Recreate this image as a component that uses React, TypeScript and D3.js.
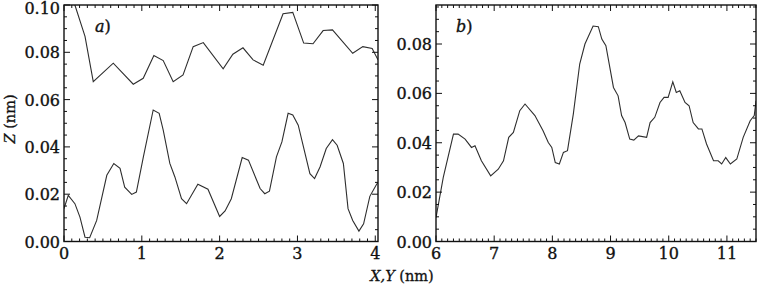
import React from "react";
import * as d3 from "d3";

// Panel a) — two height profiles along the scan (nm)
const profileTopX = [0.0, 0.14, 0.27, 0.376, 0.633, 0.89, 1.018, 1.155, 1.275, 1.403, 1.53, 1.66, 1.79, 2.045, 2.17, 2.3, 2.43, 2.56, 2.815, 2.94, 3.08, 3.2, 3.33, 3.45, 3.71, 3.84, 3.96, 4.035];
const profileTopZ = [0.113, 0.1, 0.0867, 0.0676, 0.0754, 0.0665, 0.069, 0.0786, 0.0765, 0.0676, 0.0704, 0.0824, 0.0841, 0.073, 0.0792, 0.0819, 0.0768, 0.0745, 0.0963, 0.0969, 0.0839, 0.0836, 0.0892, 0.0895, 0.0796, 0.0824, 0.0816, 0.0768];

const profileBottomX = [0, 0.055, 0.14, 0.205, 0.27, 0.33, 0.42, 0.55, 0.64, 0.72, 0.78, 0.87, 0.93, 1.02, 1.146, 1.223, 1.275, 1.36, 1.425, 1.51, 1.575, 1.72, 1.85, 2.0, 2.07, 2.15, 2.29, 2.37, 2.52, 2.58, 2.64, 2.73, 2.8, 2.88, 2.94, 3.01, 3.16, 3.22, 3.29, 3.37, 3.45, 3.51, 3.59, 3.65, 3.71, 3.79, 3.85, 3.93, 4.01, 4.035];
const profileBottomZ = [0.0139, 0.0195, 0.016, 0.0103, 0.0018, 0.0016, 0.0089, 0.028, 0.033, 0.0309, 0.023, 0.0199, 0.0209, 0.0358, 0.0556, 0.0542, 0.0471, 0.033, 0.0273, 0.0181, 0.016, 0.0242, 0.0221, 0.0106, 0.0129, 0.0181, 0.0355, 0.0344, 0.0224, 0.0202, 0.0213, 0.0358, 0.0421, 0.0542, 0.0535, 0.0492, 0.0287, 0.0266, 0.0315, 0.0393, 0.0431, 0.0407, 0.033, 0.0139, 0.0089, 0.0044, 0.0075, 0.0191, 0.0238, 0.025];

// Panel b) — single profile
const profileBX = [6.0, 6.125, 6.3, 6.38, 6.5, 6.61, 6.67, 6.78, 6.94, 7.07, 7.16, 7.25, 7.33, 7.44, 7.53, 7.7, 7.84, 7.93, 7.99, 8.05, 8.12, 8.19, 8.26, 8.36, 8.47, 8.56, 8.7, 8.79, 8.85, 8.92, 9.05, 9.13, 9.19, 9.25, 9.33, 9.4, 9.48, 9.62, 9.68, 9.76, 9.85, 9.92, 9.99, 10.07, 10.13, 10.19, 10.28, 10.35, 10.42, 10.51, 10.57, 10.65, 10.77, 10.85, 10.91, 10.98, 11.06, 11.17, 11.28, 11.4, 11.47, 11.5];
const profileBZ = [0.0097, 0.026, 0.0435, 0.0435, 0.0415, 0.0381, 0.0388, 0.0327, 0.0266, 0.0293, 0.0327, 0.0422, 0.0442, 0.053, 0.0557, 0.051, 0.0449, 0.0401, 0.0381, 0.032, 0.0314, 0.0361, 0.0368, 0.0516, 0.0719, 0.08, 0.0873, 0.087, 0.082, 0.0793, 0.0624, 0.059, 0.051, 0.0482, 0.0415, 0.0411, 0.0428, 0.0422, 0.0482, 0.0503, 0.0563, 0.0584, 0.0584, 0.0647, 0.0604, 0.0611, 0.0563, 0.055, 0.0482, 0.0456, 0.0456, 0.0395, 0.0327, 0.0327, 0.0314, 0.034, 0.0314, 0.0334, 0.0422, 0.0489, 0.051, 0.057];

// Tick labels
const aXTicks = [0, 1, 2, 3, 4];
const aYTicks = [0, 0.02, 0.04, 0.06, 0.08, 0.1];
const bXTicks = [6, 7, 8, 9, 10, 11];
const bYTicks = [0, 0.02, 0.04, 0.06, 0.08];

const FONT = "'DejaVu Serif', 'Liberation Serif', serif";
const TOP = 5;
const BOTTOM = 241.5;

type PanelProps = {
  id: string;
  x0: number;
  x1: number;
  xDomain: [number, number];
  yDomain: [number, number];
  xTicks: number[];
  yTicks: number[];
  series: { x: number[]; z: number[] }[];
  tag: string;
  tagX: number;
};

function range(a: number, b: number, step: number) {
  const out: number[] = [];
  const n = Math.round((b - a) / step);
  for (let i = 0; i <= n; i++) out.push(+(a + i * step).toFixed(6));
  return out;
}

function Panel({ id, x0, x1, xDomain, yDomain, xTicks, yTicks, series, tag, tagX }: PanelProps) {
  const x = d3.scaleLinear().domain(xDomain).range([x0, x1]);
  const y = d3.scaleLinear().domain(yDomain).range([BOTTOM, TOP]);
  const line = d3
    .line<[number, number]>()
    .x((d) => x(d[0]))
    .y((d) => y(d[1]));

  const xMinor = range(Math.ceil(xDomain[0] * 10) / 10, Math.floor(xDomain[1] * 10) / 10, 0.1);
  const yMinor = range(0, Math.floor(yDomain[1] / 0.005) * 0.005, 0.005);
  const isMajor = (v: number, list: number[]) => list.some((t) => Math.abs(t - v) < 1e-6);

  const tickLines: JSX.Element[] = [];
  xMinor.forEach((v, i) => {
    const len = isMajor(v, xTicks) ? 6 : 3;
    const px = x(v);
    tickLines.push(<line key={`xb${i}`} x1={px} x2={px} y1={BOTTOM} y2={BOTTOM - len} />);
    tickLines.push(<line key={`xt${i}`} x1={px} x2={px} y1={TOP} y2={TOP + len} />);
  });
  yMinor.forEach((v, i) => {
    const len = isMajor(v, yTicks) ? 6 : 3;
    const py = y(v);
    tickLines.push(<line key={`yl${i}`} x1={x0} x2={x0 + len} y1={py} y2={py} />);
    tickLines.push(<line key={`yr${i}`} x1={x1} x2={x1 - len} y1={py} y2={py} />);
  });

  return (
    <g>
      <defs>
        <clipPath id={id}>
          <rect x={x0} y={TOP} width={x1 - x0} height={BOTTOM - TOP} />
        </clipPath>
      </defs>
      <g clipPath={`url(#${id})`}>
        {series.map((s, i) => (
          <path
            key={i}
            d={line(s.x.map((v, j) => [v, s.z[j]] as [number, number])) || ""}
            fill="none"
            stroke="#2e2e2e"
            strokeWidth={1.1}
          />
        ))}
      </g>
      <g stroke="#111" strokeWidth={1}>
        {tickLines}
      </g>
      <rect x={x0} y={TOP} width={x1 - x0} height={BOTTOM - TOP} fill="none" stroke="#111" strokeWidth={1.4} />
      <g fontFamily={FONT} fontSize={16} fill="#111" stroke="#111" strokeWidth={0.35}>
        {xTicks.map((t) => (
          <text key={`xl${t}`} x={x(t)} y={259} textAnchor="middle">
            {t}
          </text>
        ))}
        {yTicks.map((t) => (
          <text key={`yl${t}`} x={x0 - 4} y={Math.max(y(t) + 6, 13.5)} textAnchor="end">
            {t.toFixed(2)}
          </text>
        ))}
        <text x={tagX} y={32} fontStyle="italic">
          {tag}
          <tspan fontStyle="normal">)</tspan>
        </text>
      </g>
    </g>
  );
}

export default function App() {
  return (
    <svg
      width={758}
      height={286}
      style={{ position: "absolute", left: 0, top: 0, background: "#fff" }}
    >
      <Panel
        id="clipA"
        x0={64}
        x1={378}
        xDomain={[0, 4.035]}
        yDomain={[0, 0.1]}
        xTicks={aXTicks}
        yTicks={aYTicks}
        series={[
          { x: profileTopX, z: profileTopZ },
          { x: profileBottomX, z: profileBottomZ },
        ]}
        tag="a"
        tagX={95}
      />
      <Panel
        id="clipB"
        x0={436}
        x1={756}
        xDomain={[6, 11.5]}
        yDomain={[0, 0.0958]}
        xTicks={bXTicks}
        yTicks={bYTicks}
        series={[{ x: profileBX, z: profileBZ }]}
        tag="b"
        tagX={456}
      />
      <g fontFamily={FONT} fontSize={14.5} fill="#111" stroke="#111" strokeWidth={0.3}>
        <text x={402} y={281} textAnchor="middle">
          <tspan fontStyle="italic">X,Y</tspan> (nm)
        </text>
        <text transform="translate(14.5,119) rotate(-90)" textAnchor="middle">
          <tspan fontStyle="italic">Z</tspan> (nm)
        </text>
      </g>
    </svg>
  );
}
